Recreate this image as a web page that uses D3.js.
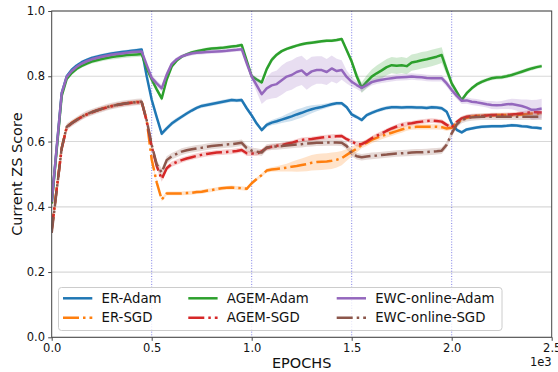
<!DOCTYPE html>
<html>
<head>
<meta charset="utf-8">
<script src="https://cdn.jsdelivr.net/npm/d3@7"></script>
<style>
  html, body { margin: 0; padding: 0; background: #fff; }
  svg { display: block; font-family: "DejaVu Sans", sans-serif; }
</style>
</head>
<body>
<svg id="chart" width="558" height="372"></svg>
<script>
// ---- data -------------------------------------------------------------
// evaluation epochs: 0, then every 25 epochs from 50 to 2450
const epochs = [0].concat(d3.range(50, 2451, 25));
const taskBoundaries = [500, 1000, 1500, 2000];
const xTicks = [0, 500, 1000, 1500, 2000, 2500];
const xTickLabels = ["0.0", "0.5", "1.0", "1.5", "2.0", "2.5"];
const yTicks = [0, 0.2, 0.4, 0.6, 0.8, 1.0];
const yTickLabels = ["0.0", "0.2", "0.4", "0.6", "0.8", "1.0"];
const seriesNames = ["ER-Adam", "ER-SGD", "AGEM-Adam", "AGEM-SGD", "EWC-online-Adam", "EWC-online-SGD"];

// mean score per epoch (tasks of 500 epochs each)
const erAdam = [
  0.412,0.748,0.800,0.820,0.833,0.843,0.850,0.856,0.860,0.864,0.867,0.870,0.872,0.874,0.876,0.878,0.880,0.882,0.800,
  0.728,0.675,0.624,0.640,0.655,0.666,0.676,0.686,0.695,0.703,0.709,0.712,0.715,0.718,0.721,0.724,0.727,0.726,0.727,0.702,
  0.680,0.655,0.635,0.651,0.658,0.662,0.667,0.672,0.677,0.683,0.688,0.694,0.699,0.703,0.706,0.710,0.714,0.717,0.717,0.705,
  0.683,0.675,0.666,0.681,0.688,0.694,0.699,0.703,0.705,0.705,0.704,0.705,0.705,0.704,0.704,0.703,0.705,0.704,0.702,0.691,
  0.656,0.636,0.628,0.637,0.640,0.643,0.645,0.646,0.647,0.647,0.647,0.648,0.650,0.649,0.647,0.646,0.643,0.642,0.640];
const erSgd = [
  0.330,0.580,0.645,0.657,0.667,0.676,0.683,0.690,0.695,0.700,0.705,0.709,0.712,0.715,0.717,0.719,0.721,0.722,0.665,
  0.545,0.475,0.422,0.441,0.441,0.441,0.441,0.442,0.443,0.445,0.446,0.449,0.451,0.454,0.457,0.458,0.459,0.458,0.457,0.455,
  0.472,0.485,0.497,0.511,0.514,0.516,0.518,0.520,0.523,0.525,0.528,0.531,0.535,0.537,0.538,0.539,0.541,0.544,0.549,0.559,
  0.569,0.578,0.589,0.596,0.605,0.611,0.617,0.622,0.627,0.632,0.637,0.641,0.644,0.645,0.645,0.645,0.645,0.645,0.644,0.640,
  0.642,0.656,0.668,0.673,0.676,0.678,0.679,0.680,0.680,0.681,0.681,0.681,0.681,0.682,0.683,0.684,0.686,0.686,0.686];
const agemAdam = [
  0.410,0.740,0.792,0.810,0.823,0.832,0.839,0.845,0.849,0.853,0.856,0.859,0.861,0.863,0.865,0.866,0.867,0.868,0.825,
  0.790,0.760,0.732,0.790,0.830,0.848,0.860,0.867,0.873,0.877,0.880,0.883,0.885,0.886,0.887,0.889,0.891,0.893,0.896,0.848,
  0.800,0.790,0.781,0.822,0.850,0.866,0.877,0.884,0.889,0.894,0.898,0.901,0.903,0.905,0.907,0.909,0.909,0.911,0.914,0.880,
  0.845,0.800,0.765,0.783,0.799,0.809,0.818,0.828,0.834,0.832,0.834,0.831,0.842,0.845,0.849,0.852,0.856,0.860,0.865,0.820,
  0.778,0.752,0.727,0.748,0.763,0.775,0.783,0.789,0.794,0.796,0.797,0.800,0.804,0.809,0.814,0.819,0.824,0.828,0.831];
const agemSgd = [
  0.330,0.578,0.643,0.656,0.666,0.675,0.683,0.689,0.695,0.700,0.704,0.708,0.712,0.714,0.717,0.719,0.720,0.721,0.662,
  0.585,0.525,0.485,0.518,0.531,0.537,0.543,0.548,0.552,0.556,0.559,0.562,0.564,0.566,0.567,0.568,0.569,0.571,0.574,0.564,
  0.563,0.563,0.570,0.580,0.584,0.587,0.589,0.593,0.596,0.601,0.605,0.607,0.608,0.610,0.612,0.614,0.615,0.616,0.617,0.607,
  0.600,0.592,0.592,0.600,0.610,0.618,0.625,0.633,0.640,0.646,0.651,0.654,0.656,0.659,0.661,0.663,0.664,0.663,0.661,0.651,
  0.643,0.660,0.671,0.676,0.678,0.678,0.678,0.680,0.681,0.681,0.681,0.682,0.683,0.684,0.686,0.688,0.691,0.690,0.689];
const ewcAdam = [
  0.415,0.748,0.798,0.816,0.829,0.839,0.846,0.852,0.856,0.860,0.863,0.866,0.868,0.870,0.872,0.874,0.875,0.876,0.835,
  0.795,0.778,0.763,0.805,0.838,0.852,0.861,0.866,0.870,0.872,0.873,0.874,0.875,0.876,0.877,0.878,0.880,0.881,0.883,0.840,
  0.799,0.772,0.745,0.763,0.772,0.776,0.788,0.799,0.804,0.813,0.818,0.804,0.815,0.819,0.819,0.813,0.824,0.816,0.819,0.798,
  0.783,0.773,0.764,0.773,0.782,0.786,0.789,0.792,0.794,0.796,0.797,0.798,0.799,0.798,0.797,0.795,0.794,0.794,0.794,0.778,
  0.758,0.740,0.725,0.726,0.722,0.720,0.717,0.714,0.712,0.711,0.712,0.714,0.715,0.712,0.709,0.704,0.697,0.698,0.701];
const ewcSgd = [
  0.320,0.580,0.645,0.656,0.666,0.676,0.684,0.690,0.695,0.700,0.705,0.709,0.712,0.715,0.717,0.719,0.721,0.722,0.665,
  0.590,0.530,0.505,0.543,0.555,0.562,0.569,0.573,0.576,0.579,0.581,0.584,0.586,0.588,0.589,0.591,0.592,0.594,0.596,0.580,
  0.572,0.569,0.566,0.582,0.584,0.585,0.586,0.588,0.589,0.591,0.592,0.594,0.595,0.596,0.596,0.597,0.597,0.597,0.596,0.586,
  0.565,0.555,0.552,0.554,0.556,0.557,0.559,0.560,0.562,0.563,0.564,0.565,0.566,0.567,0.567,0.568,0.569,0.570,0.572,0.590,
  0.625,0.652,0.666,0.671,0.674,0.675,0.676,0.676,0.676,0.676,0.676,0.676,0.676,0.676,0.676,0.676,0.676,0.676,0.676];

// standard deviation across runs
const erAdamSd = [
  0.004,0.008,0.006,0.005,0.005,0.005,0.005,0.005,0.005,0.005,0.005,0.005,0.005,0.005,0.005,0.005,0.005,0.005,0.006,
  0.008,0.008,0.007,0.007,0.007,0.007,0.006,0.006,0.006,0.006,0.006,0.006,0.006,0.006,0.006,0.006,0.006,0.006,0.006,0.006,
  0.006,0.006,0.006,0.007,0.008,0.009,0.010,0.012,0.014,0.015,0.015,0.014,0.012,0.010,0.008,0.007,0.006,0.006,0.006,0.006,
  0.006,0.006,0.006,0.006,0.006,0.006,0.006,0.006,0.006,0.006,0.006,0.006,0.006,0.006,0.006,0.006,0.006,0.006,0.006,0.006,
  0.005,0.005,0.005,0.005,0.005,0.005,0.005,0.005,0.005,0.005,0.005,0.005,0.005,0.005,0.005,0.005,0.005,0.005,0.005];
const erSgdSd = [
  0.004,0.004,0.004,0.004,0.004,0.004,0.004,0.004,0.004,0.004,0.004,0.004,0.004,0.004,0.004,0.004,0.004,0.004,0.004,
  0.006,0.006,0.006,0.006,0.006,0.006,0.006,0.006,0.006,0.006,0.006,0.006,0.006,0.006,0.006,0.006,0.006,0.006,0.006,0.006,
  0.005,0.005,0.006,0.006,0.007,0.008,0.010,0.012,0.015,0.018,0.020,0.022,0.024,0.025,0.025,0.025,0.025,0.024,0.022,0.018,
  0.015,0.012,0.010,0.010,0.010,0.010,0.010,0.010,0.010,0.010,0.010,0.008,0.008,0.008,0.008,0.008,0.008,0.008,0.008,0.008,
  0.006,0.006,0.006,0.006,0.006,0.006,0.006,0.006,0.006,0.006,0.006,0.006,0.006,0.006,0.006,0.006,0.006,0.006,0.006];
const agemAdamSd = [
  0.004,0.008,0.006,0.006,0.006,0.006,0.006,0.006,0.007,0.007,0.007,0.008,0.008,0.008,0.008,0.008,0.008,0.008,0.008,
  0.008,0.008,0.008,0.008,0.006,0.005,0.005,0.005,0.005,0.005,0.005,0.005,0.005,0.005,0.005,0.005,0.005,0.005,0.005,0.005,
  0.006,0.006,0.006,0.008,0.008,0.006,0.005,0.005,0.005,0.005,0.005,0.005,0.005,0.005,0.005,0.005,0.005,0.005,0.005,0.008,
  0.010,0.012,0.016,0.020,0.022,0.024,0.025,0.025,0.025,0.025,0.025,0.025,0.025,0.025,0.025,0.025,0.025,0.025,0.024,0.016,
  0.010,0.008,0.006,0.006,0.006,0.006,0.006,0.006,0.006,0.006,0.006,0.006,0.006,0.006,0.006,0.006,0.006,0.006,0.006];
const agemSgdSd = [
  0.007,0.007,0.007,0.007,0.007,0.007,0.007,0.007,0.007,0.007,0.007,0.007,0.007,0.007,0.007,0.007,0.007,0.007,0.007,
  0.008,0.008,0.008,0.008,0.008,0.008,0.008,0.008,0.008,0.008,0.008,0.008,0.008,0.008,0.008,0.008,0.008,0.008,0.008,0.008,
  0.007,0.007,0.007,0.007,0.007,0.007,0.007,0.007,0.007,0.007,0.007,0.007,0.007,0.007,0.007,0.007,0.007,0.007,0.007,0.007,
  0.007,0.007,0.007,0.007,0.007,0.007,0.007,0.007,0.007,0.007,0.007,0.007,0.007,0.007,0.007,0.007,0.007,0.007,0.007,0.007,
  0.007,0.007,0.007,0.007,0.007,0.007,0.007,0.007,0.007,0.007,0.007,0.007,0.007,0.007,0.007,0.007,0.007,0.007,0.007];
const ewcAdamSd = [
  0.004,0.008,0.006,0.005,0.005,0.005,0.005,0.005,0.005,0.005,0.005,0.005,0.005,0.005,0.005,0.005,0.005,0.005,0.005,
  0.010,0.010,0.010,0.008,0.006,0.006,0.006,0.006,0.006,0.006,0.006,0.006,0.006,0.006,0.006,0.006,0.006,0.006,0.006,0.006,
  0.010,0.020,0.030,0.035,0.040,0.042,0.045,0.045,0.045,0.045,0.045,0.045,0.045,0.042,0.042,0.040,0.040,0.038,0.030,0.020,
  0.015,0.012,0.012,0.010,0.010,0.010,0.010,0.010,0.010,0.010,0.010,0.010,0.010,0.010,0.010,0.010,0.010,0.010,0.010,0.010,
  0.010,0.010,0.010,0.010,0.010,0.010,0.010,0.010,0.012,0.012,0.012,0.014,0.016,0.018,0.020,0.025,0.030,0.030,0.030];
const ewcSgdSd = [
  0.010,0.010,0.010,0.010,0.010,0.010,0.010,0.010,0.010,0.010,0.010,0.010,0.010,0.010,0.010,0.010,0.010,0.010,0.010,
  0.012,0.012,0.012,0.012,0.010,0.010,0.010,0.010,0.010,0.010,0.010,0.010,0.010,0.010,0.010,0.010,0.010,0.010,0.010,0.010,
  0.010,0.010,0.010,0.010,0.010,0.010,0.010,0.010,0.010,0.010,0.010,0.010,0.010,0.010,0.010,0.010,0.010,0.010,0.010,0.010,
  0.010,0.010,0.010,0.010,0.010,0.010,0.010,0.010,0.010,0.010,0.010,0.010,0.010,0.010,0.010,0.010,0.010,0.010,0.010,0.010,
  0.010,0.010,0.010,0.010,0.010,0.010,0.010,0.010,0.010,0.010,0.010,0.010,0.010,0.010,0.010,0.010,0.010,0.010,0.010];

// ---- styles -------------------------------------------------------------
const palette = {
  "ER-Adam": "#1f77b4", "ER-SGD": "#ff7f0e",
  "AGEM-Adam": "#2ca02c", "AGEM-SGD": "#d62728",
  "EWC-online-Adam": "#9467bd", "EWC-online-SGD": "#8c564b"
};
const dashDot = "16,4,2.5,4";
const lineWidth = 2.5;

const series = [
  { name: "ER-Adam", mean: erAdam, sd: erAdamSd, dashed: false },
  { name: "ER-SGD", mean: erSgd, sd: erSgdSd, dashed: true },
  { name: "AGEM-Adam", mean: agemAdam, sd: agemAdamSd, dashed: false },
  { name: "AGEM-SGD", mean: agemSgd, sd: agemSgdSd, dashed: true },
  { name: "EWC-online-Adam", mean: ewcAdam, sd: ewcAdamSd, dashed: false },
  { name: "EWC-online-SGD", mean: ewcSgd, sd: ewcSgdSd, dashed: true }
];

// ---- layout -------------------------------------------------------------
const W = 558, H = 372;
const margin = { left: 51.7, right: 6.3, top: 11, bottom: 34.7 };
const pw = W - margin.left - margin.right;
const ph = H - margin.top - margin.bottom;

const svg = d3.select("#chart");
const g = svg.append("g").attr("transform", `translate(${margin.left},${margin.top})`);

const x = d3.scaleLinear().domain([0, 2500]).range([0, pw]);
const y = d3.scaleLinear().domain([0, 1]).range([ph, 0]);

svg.append("defs").append("clipPath").attr("id", "plotClip")
  .append("rect").attr("x", 0).attr("y", 0).attr("width", pw).attr("height", ph);

// horizontal grid
g.append("g").selectAll("line").data(yTicks).join("line")
  .attr("x1", 0).attr("x2", pw)
  .attr("y1", d => y(d)).attr("y2", d => y(d))
  .attr("stroke", "#d8d8d8").attr("stroke-width", 1.2);

// task boundaries
g.append("g").selectAll("line").data(taskBoundaries).join("line")
  .attr("x1", d => x(d)).attr("x2", d => x(d))
  .attr("y1", 0).attr("y2", ph)
  .attr("stroke", "#3a3ad8").attr("stroke-opacity", 0.65)
  .attr("stroke-width", 1).attr("stroke-dasharray", "1,1.65");

// bands and lines
const plot = g.append("g").attr("clip-path", "url(#plotClip)");
const area = d3.area()
  .x(d => x(d.e)).y0(d => y(d.v - d.s)).y1(d => y(d.v + d.s));
const line = d3.line().x(d => x(d.e)).y(d => y(d.v));

series.forEach(s => {
  const pts = epochs.map((e, i) => ({ e, v: s.mean[i], s: s.sd[i] }));
  plot.append("path").datum(pts).attr("d", area)
    .attr("fill", palette[s.name]).attr("fill-opacity", 0.22).attr("stroke", "none");
  plot.append("path").datum(pts).attr("d", line)
    .attr("fill", "none").attr("stroke", palette[s.name])
    .attr("stroke-width", lineWidth)
    .attr("stroke-linejoin", "round")
    .attr("stroke-dasharray", s.dashed ? dashDot : null);
});

// axes
const xAxis = d3.axisBottom(x).tickValues(xTicks)
  .tickFormat((d, i) => xTickLabels[i]).tickSize(3.5).tickPadding(3.5);
const yAxis = d3.axisLeft(y).tickValues(yTicks)
  .tickFormat((d, i) => yTickLabels[i]).tickSize(3.5).tickPadding(3.2);

const gx = g.append("g").attr("transform", `translate(0,${ph})`).call(xAxis);
const gy = g.append("g").call(yAxis);
[gx, gy].forEach(a => {
  a.select(".domain").remove();
  a.selectAll(".tick line").attr("stroke", "#333").attr("stroke-width", 0.9);
  a.selectAll(".tick text").attr("fill", "#111")
    .style("font-family", "DejaVu Sans").style("font-size", "11.5px");
});

// frame
g.append("rect").attr("x", 0).attr("y", 0).attr("width", pw).attr("height", ph)
  .attr("fill", "none").attr("stroke", "#444").attr("stroke-width", 1);

// axis labels
svg.append("text").attr("x", margin.left + pw / 2).attr("y", 368.3)
  .attr("text-anchor", "middle").attr("fill", "#111")
  .style("font-size", "14.5px").text("EPOCHS");
svg.append("text")
  .attr("transform", `translate(21.7,${margin.top + ph / 2}) rotate(-90)`)
  .attr("text-anchor", "middle").attr("fill", "#111")
  .style("font-size", "14.5px").text("Current ZS Score");
svg.append("text").attr("x", margin.left + pw).attr("y", 365.7)
  .attr("text-anchor", "end").attr("fill", "#111")
  .style("font-size", "11.5px").text("1e3");

// legend: three columns, two rows
const legend = svg.append("g");
legend.append("rect").attr("x", 58.5).attr("y", 287.5).attr("width", 443.5).attr("height", 43)
  .attr("rx", 3).attr("fill", "#fff").attr("fill-opacity", 0.8)
  .attr("stroke", "#cccccc").attr("stroke-width", 1);
const colX = [63, 188.3, 336.7];
const rowY = [298.3, 317.7];
series.forEach((s, i) => {
  const cx = colX[Math.floor(i / 2)], cy = rowY[i % 2];
  legend.append("line").attr("x1", cx).attr("x2", cx + 29.3).attr("y1", cy).attr("y2", cy)
    .attr("stroke", palette[s.name]).attr("stroke-width", lineWidth)
    .attr("stroke-dasharray", s.dashed ? dashDot : null);
  legend.append("text").attr("x", cx + 38.5).attr("y", cy).attr("dy", "0.36em")
    .attr("fill", "#111").style("font-size", "13.3px").text(s.name);
});
</script>
</body>
</html>
